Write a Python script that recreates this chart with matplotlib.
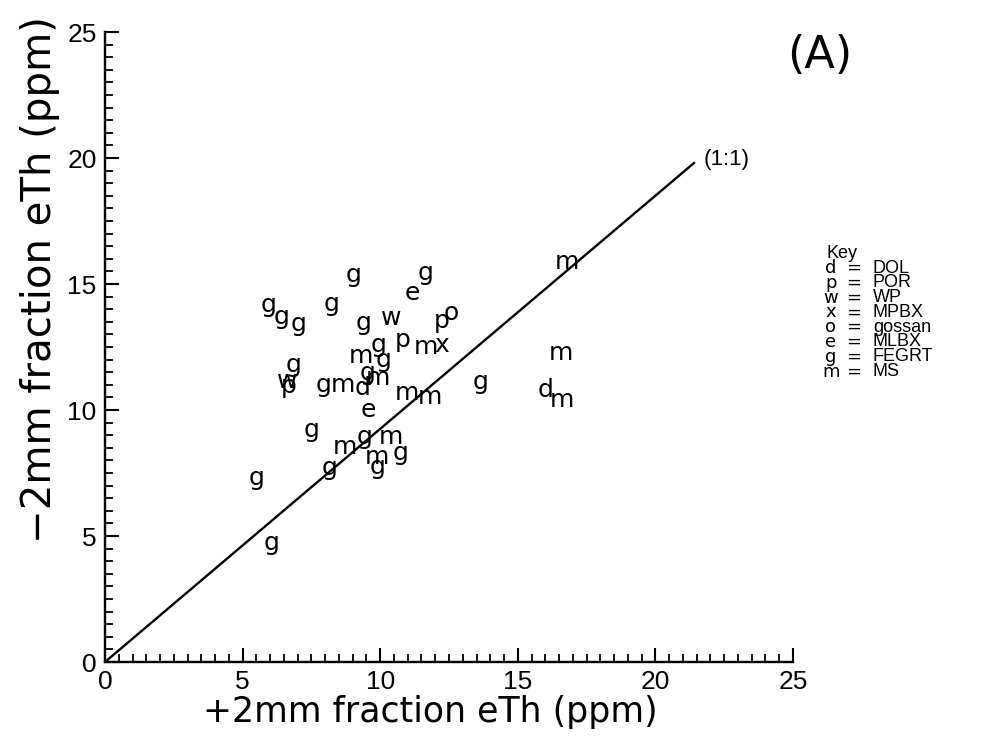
import matplotlib
matplotlib.use("Agg")
import matplotlib.pyplot as plt
from matplotlib.ticker import MultipleLocator
from matplotlib.transforms import offset_copy

# plotted letters: symbol, +2mm eTh (ppm), -2mm eTh (ppm)
symbols = ["g", "g", "g", "g", "g", "e", "g", "g", "w", "p", "o", "p", "m", "x",
           "m", "g", "g", "g", "w", "p", "g", "m", "g", "m", "d", "m", "m", "g",
           "e", "g", "g", "m", "m", "m", "g", "g", "g", "g", "g", "m", "m", "d", "m"]
x_vals = [5.93, 6.40, 7.05, 8.22, 9.05, 11.16, 11.64, 9.38, 10.40, 12.25, 12.58, 10.80, 11.67, 12.22,
          9.31, 9.93, 10.11, 6.87, 6.62, 6.69, 7.96, 8.65, 9.53, 9.93, 9.35, 10.98, 11.82, 13.64,
          9.56, 7.49, 9.42, 10.40, 8.73, 9.89, 9.89, 10.73, 8.15, 5.49, 6.07, 16.80, 16.55, 16.00, 16.62]
y_vals = [14.17, 13.69, 13.41, 14.21, 15.36, 14.64, 15.44, 13.45, 13.65, 13.53, 13.85, 12.78, 12.50, 12.58,
          12.14, 12.58, 11.98, 11.79, 11.15, 10.95, 10.99, 10.99, 11.47, 11.27, 10.87, 10.67, 10.52, 11.11,
          10.00, 9.21, 8.93, 8.93, 8.53, 8.13, 7.74, 8.29, 7.70, 7.30, 4.72, 15.87, 12.26, 10.79, 10.40]

# reference line as drawn on the scan
line_x = [0, 21.4]
line_y = [0, 19.8]

key_symbols = ["d", "p", "w", "x", "o", "e", "g", "m"]
key_names = ["DOL", "POR", "WP", "MPBX", "gossan", "MLBX", "FEGRT", "MS"]

plt.rcParams["font.family"] = ["DejaVu Sans"]
narrow = ["Liberation Sans", "DejaVu Sans"]

fig = plt.figure(figsize=(9.91, 7.43), dpi=100)
ax = fig.add_axes([105 / 991, 81 / 743, 688 / 991, 630 / 743])

ax.plot(line_x, line_y, color="black", linewidth=1.7)

shift = offset_copy(ax.transData, fig=fig, x=0, y=-7, units="dots")
for s, xv, yv in zip(symbols, x_vals, y_vals):
    ax.text(xv, yv, s, transform=shift, fontsize=18, ha="center", va="baseline")

ax.set_xlim(0, 25)
ax.set_ylim(0, 25)
for side in ["top", "right"]:
    ax.spines[side].set_visible(False)
for side in ["left", "bottom"]:
    ax.spines[side].set_linewidth(1.7)

ax.xaxis.set_major_locator(MultipleLocator(5))
ax.xaxis.set_minor_locator(MultipleLocator(0.5))
ax.yaxis.set_major_locator(MultipleLocator(5))
ax.yaxis.set_minor_locator(MultipleLocator(0.5))
ax.tick_params(which="major", direction="in", length=10, width=1.5, labelsize=19, pad=6)
ax.tick_params(which="minor", direction="in", length=6, width=1.3)
for lab in ax.get_xticklabels() + ax.get_yticklabels():
    lab.set_fontfamily(narrow)

fig.text(430 / 991, 1 - 712 / 743, "+2mm fraction eTh (ppm)", fontsize=25,
         ha="center", va="center")
fig.text(40 / 991, 1 - 280 / 743, "\u22122mm fraction eTh (ppm)", fontsize=29,
         ha="center", va="center", rotation=90)

ax.text(21.75, 19.95, "(1:1)", fontsize=16, ha="left", va="center", family=narrow)
fig.text(820 / 991, 1 - 56 / 743, "(A)", fontsize=32, ha="center", va="center")

fig.text(842 / 991, 1 - 254 / 743, "Key", fontsize=13, ha="center", va="center", family=narrow)
for i, (s, name) in enumerate(zip(key_symbols, key_names)):
    ypix = 268 + i * 14.8
    fig.text(831 / 991, 1 - ypix / 743, s, fontsize=13, ha="center", va="center")
    fig.text(854 / 991, 1 - ypix / 743, "=", fontsize=13, ha="center", va="center")
    fig.text(873 / 991, 1 - ypix / 743, name, fontsize=13, ha="left", va="center",
             family=narrow)

fig.savefig("out.png", dpi=100)
